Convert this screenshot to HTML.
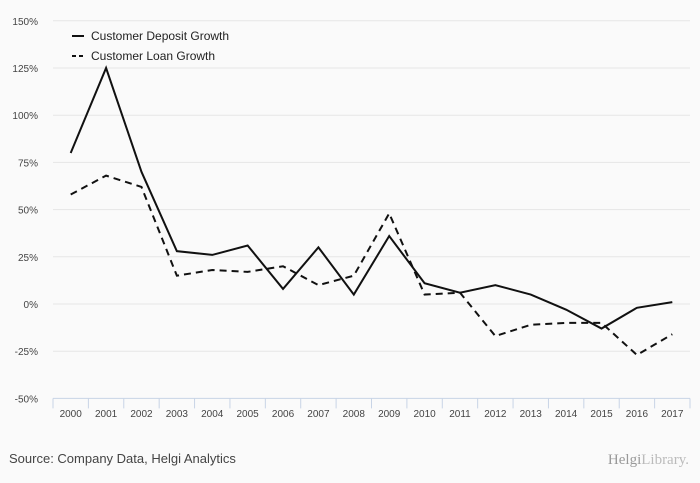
<!DOCTYPE html>
<html><head><meta charset="utf-8"><style>
body{margin:0;background:#fafafa;font-family:"Liberation Sans",sans-serif}
svg{display:block}
</style></head><body>
<svg width="700" height="483" id="c">
<rect width="700" height="483" fill="#fafafa"/>
<g id="grid"></g><g id="ax"></g><g id="series"></g>
<g>
<line x1="72" y1="36" x2="84" y2="36" stroke="#111" stroke-width="2"/>
<text x="91" y="40" font-size="12" fill="#222">Customer Deposit Growth</text>
<line x1="72" y1="56" x2="84" y2="56" stroke="#111" stroke-width="2" stroke-dasharray="4,3"/>
<text x="91" y="60" font-size="12" fill="#222">Customer Loan Growth</text>
</g>
<text x="9" y="463" font-size="13" fill="#444">Source: Company Data, Helgi Analytics</text>
<text x="689" y="464" font-size="15" fill="#999" text-anchor="end" font-family="Liberation Serif,serif">Helgi<tspan fill="#bbb">Library.</tspan></text>
</svg>
<script>
const years=["2000","2001","2002","2003","2004","2005","2006","2007","2008","2009","2010","2011","2012","2013","2014","2015","2016","2017"];
const deposit=[80,125,70,28,26,31,8,30,5,36,11,6,10,5,-3,-13,-2,1];
const loan=[58,68,62,15,18,17,20,10,15,48,5,6,-17,-11,-10,-10,-27,-16];
const yTicks=[150,125,100,75,50,25,0,-25,-50];
const NS="http://www.w3.org/2000/svg";
const x0=53,x1=690,bw=(x1-x0)/years.length;
const X=i=>x0+bw*(i+0.5);
const Y=v=>304-v*(47.2/25);
function mk(p,t,a){const e=document.createElementNS(NS,t);for(const k in a)e.setAttribute(k,a[k]);document.getElementById(p).appendChild(e);return e;}
yTicks.forEach(v=>{
 const l=mk('grid','line',{x1:x0,x2:x1,y1:Y(v),y2:Y(v),stroke:v===-50?'#c8d4e6':'#e6e6e6'});
 
 
 const t=mk('ax','text',{x:38,y:Y(v)+4,'font-size':10,fill:'#444','text-anchor':'end'});
 t.textContent=v+'%';
 
 
});
years.forEach((y,i)=>{
 const tk=mk('ax','line',{x1:x0+bw*i,x2:x0+bw*i,y1:Y(-50),y2:Y(-50)+10,stroke:'#c8d4e6'});
 
 
 const t=mk('ax','text',{x:X(i),y:417,'font-size':10,fill:'#444','text-anchor':'middle'});
 t.textContent=y;
 
 
});
mk('ax','line',{x1:x1,x2:x1,y1:Y(-50),y2:Y(-50)+10,stroke:'#c8d4e6'});
const pd=mk('series','polyline',{points:deposit.map((v,i)=>X(i)+','+Y(v)).join(' '),fill:'none',stroke:'#111','stroke-width':2});


const pl=mk('series','polyline',{points:loan.map((v,i)=>X(i)+','+Y(v)).join(' '),fill:'none',stroke:'#111','stroke-width':2,'stroke-dasharray':'7,5'});


</script>
</body></html>
